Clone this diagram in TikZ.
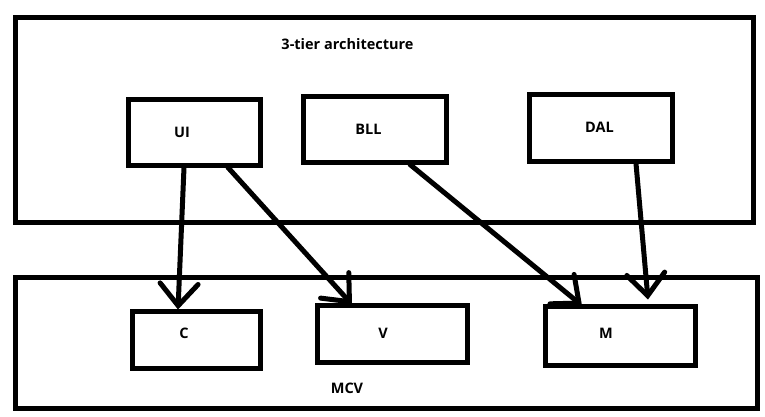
\documentclass[tikz,border=0pt]{standalone}
\usepackage{fontspec}
\setmainfont{Open Sans}
\usetikzlibrary{arrows.meta}

\begin{document}
\begin{tikzpicture}[x=1pt, y=-1pt,
    frame/.style={draw, line width=5pt},
    tier_box/.style={draw, line width=5pt, inner sep=0pt, minimum width=#1},
    tier_box/.default=132pt,
    tag/.style={font=\bfseries\fontsize{14.5}{16}\selectfont},
    link/.style={line width=5pt, line cap=round, -{Straight Barb[length=22pt, width=38pt, line cap=round]}}]

    \useasboundingbox (0, 0) rectangle (765, 416);

    \draw[frame] (15, 17) rectangle (753, 222);
    \draw[frame] (15, 277) rectangle (757, 408);
    \node[tag] (top_title) at (347.5, 44.5) {3-tier architecture};
    \node[tag] (bottom_title) at (347, 388.5) {MCV};

    \node[tier_box=132pt, minimum height=66pt, label={[tag, xshift=-12pt]center:UI}] (UI) at (194, 132) {};
    \node[tier_box=143pt, minimum height=66pt, label={[tag, xshift=-6pt]center:BLL}] (BLL) at (374.5, 129) {};
    \node[tier_box=143pt, minimum height=67pt, label={[tag, xshift=-1pt]center:DAL}] (DAL) at (600.5, 127.5) {};
    \node[tier_box=128pt, minimum height=57pt, label={[tag, xshift=-12pt, yshift=6pt]center:C}] (C) at (196, 339.5) {};
    \node[tier_box=150pt, minimum height=57pt, label={[tag, xshift=-9pt]center:V}] (V) at (392, 333.5) {};
    \node[tier_box=150pt, minimum height=59pt, label={[tag, xshift=-14pt, yshift=2pt]center:M}] (M) at (620, 335.5) {};

    \draw[link] ([xshift=-10pt]UI.south) -- ([xshift=-18pt, yshift=-1pt]C.north);
    \draw[link] ([xshift=34pt]UI.south) -- ([xshift=-40pt, yshift=-2pt]V.north);
    \draw[link] ([xshift=35.5pt]BLL.south) -- ([xshift=-38pt, yshift=-2pt]M.north);
    \draw[link] ([xshift=35.5pt]DAL.south) -- ([xshift=28pt, yshift=4pt]M.north);
\end{tikzpicture}
\end{document}
